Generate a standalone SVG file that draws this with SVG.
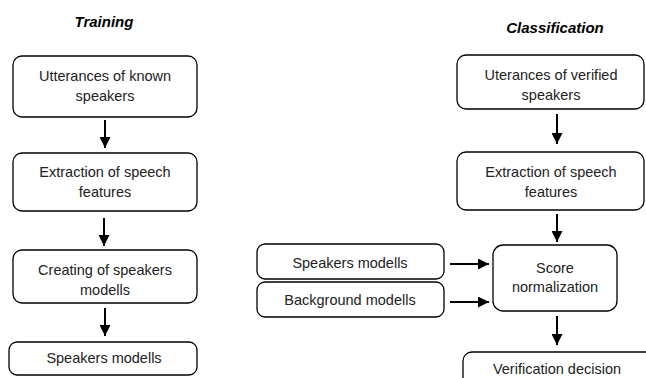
<svg xmlns="http://www.w3.org/2000/svg" width="646" height="378" viewBox="0 0 646 378">
<defs>
<marker id="ah" viewBox="0 0 10 10" refX="10" refY="5" markerWidth="5.5" markerHeight="5.5" orient="auto" markerUnits="strokeWidth">
<path d="M0,0 L10,5 L0,10 z" fill="#000"/>
</marker>
<style>
.box{fill:#fff;stroke:#000;stroke-width:1.3}
.t{font-family:"Liberation Sans",Arial,sans-serif;font-size:14.5px;fill:#222;text-anchor:middle}
.h{font-family:"Liberation Sans",Arial,sans-serif;font-size:15px;font-weight:bold;font-style:italic;fill:#000;text-anchor:middle}
.c{stroke:#000;stroke-width:2;fill:none;marker-end:url(#ah)}
</style>
</defs>
<rect width="646" height="378" fill="#fff"/>
<text class="h" x="104" y="27">Training</text>
<text class="h" x="555" y="33">Classification</text>
<g id="connectors">
<line class="c" x1="105" y1="120" x2="105" y2="148"/>
<line class="c" x1="104" y1="218" x2="104" y2="246"/>
<line class="c" x1="105" y1="308" x2="105" y2="336"/>
<line class="c" x1="557" y1="114" x2="557" y2="144"/>
<line class="c" x1="557" y1="214" x2="557" y2="242"/>
<line class="c" x1="450" y1="264" x2="489" y2="264"/>
<line class="c" x1="450" y1="302" x2="489" y2="302"/>
<line class="c" x1="557" y1="316" x2="557" y2="345"/>
</g>
<g id="t1"><rect class="box" x="13" y="56" width="184" height="61" rx="9"/>
<text class="t" x="105" y="81">Utterances of known</text><text class="t" x="105" y="101">speakers</text></g>
<g id="t2"><rect class="box" x="13" y="153" width="184" height="58" rx="9"/>
<text class="t" x="105" y="177">Extraction of speech</text><text class="t" x="105" y="197">features</text></g>
<g id="t3"><rect class="box" x="13" y="250" width="184" height="53" rx="9"/>
<text class="t" x="105" y="275">Creating of speakers</text><text class="t" x="105" y="295">modells</text></g>
<g id="t4"><rect class="box" x="9" y="342" width="188" height="33" rx="8"/>
<text class="t" x="104" y="363">Speakers modells</text></g>
<g id="c1"><rect class="box" x="457" y="55" width="187" height="54" rx="9"/>
<text class="t" x="551" y="80">Uterances of verified</text><text class="t" x="551" y="100">speakers</text></g>
<g id="c2"><rect class="box" x="457" y="152" width="187" height="58" rx="9"/>
<text class="t" x="551" y="177">Extraction of speech</text><text class="t" x="551" y="197">features</text></g>
<g id="c3"><rect class="box" x="257" y="244" width="187" height="35" rx="8"/>
<text class="t" x="350" y="268">Speakers modells</text></g>
<g id="c4"><rect class="box" x="257" y="282" width="187" height="35" rx="8"/>
<text class="t" x="350" y="305">Background modells</text></g>
<g id="c5"><rect class="box" x="493" y="245" width="124" height="66" rx="10"/>
<text class="t" x="555" y="273">Score</text><text class="t" x="555" y="292">normalization</text></g>
<g id="c6"><rect class="box" x="463" y="352" width="200" height="40" rx="9"/>
<text class="t" x="557" y="374">Verification decision</text></g>
</svg>
